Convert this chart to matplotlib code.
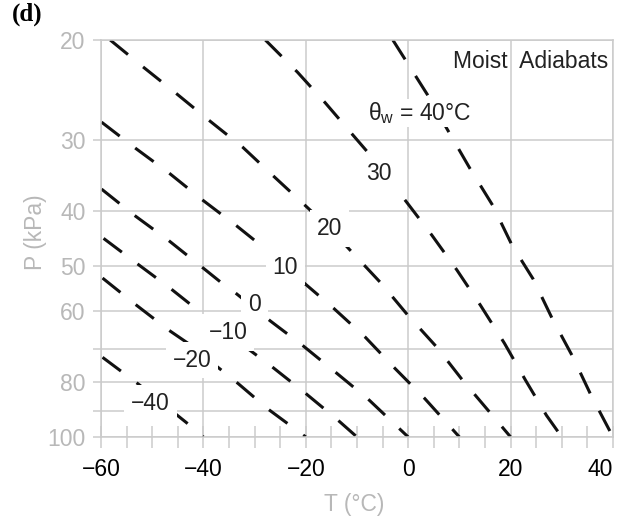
import numpy as np
import matplotlib
matplotlib.use('Agg')
import matplotlib.pyplot as plt
from matplotlib.ticker import FixedLocator, FixedFormatter, MultipleLocator

#---------------------------------------------------------
# data: T (degC) along each moist adiabat
#---------------------------------------------------------

theta_w = [40, 30, 20, 10, 0, -10, -20, -40]

P_40 = [20, 25.0, 28.8, 33.6, 39.1, 46.0, 52.7, 61.8, 72.4, 84.4, 100]
T_40 = [-3.0, 3.8, 7.7, 12.0, 16.5, 20.3, 24.4, 28.1, 32.2, 35.7, 40.0]

P_30 = [20, 22.8, 25.8, 29.4, 31.6, 38.6, 44.1, 50.8, 58.6, 68.4, 79.4, 91.6, 100]
T_30 = [-27.9, -21.6, -16.2, -10.8, -7.8, -0.3, 4.6, 9.5, 14.1, 18.8, 22.9, 27.0, 30.0]

P_20 = [20, 22.3, 24.8, 27.7, 30.9, 34.6, 40.2, 45.9, 53.6, 61.0, 69.5, 79.4, 90.4, 100]
T_20 = [-58.2, -51.8, -45.4, -38.9, -32.3, -26.5, -18.7, -12.3, -5.3, -0.1, 5.6, 10.6, 15.9, 20.0]

P_10 = [27.9, 31.0, 34.3, 38.3, 42.5, 45.2, 53.4, 59.3, 66.7, 75.7, 85.5, 100]
T_10 = [-59.9, -53.3, -46.7, -40.1, -33.5, -29.8, -20.5, -14.6, -8.4, -2.6, 3.2, 10.0]

P_0 = [36.6, 40.7, 45.0, 50.2, 53.4, 55.8, 62.5, 68.9, 76.9, 85.8, 100]
T_0 = [-59.9, -53.5, -46.9, -40.3, -36.6, -33.7, -26.9, -20.7, -14.2, -7.8, 0.0]

P_m10 = [44.7, 49.4, 54.7, 61.0, 69.5, 75.1, 83.7, 93.1, 100]
T_m10 = [-59.5, -53.1, -46.5, -39.9, -31.7, -26.7, -20.1, -13.9, -10.0]

P_m20 = [52.5, 58.4, 64.9, 68.4, 80.4, 89.4, 100]
T_m20 = [-59.7, -53.3, -46.7, -43.0, -33.3, -27.3, -20.0]

P_m40 = [72.4, 80.7, 94.2, 100]
T_m40 = [-59.7, -52.7, -43.4, -40.0]

P_lines = [P_40, P_30, P_20, P_10, P_0, P_m10, P_m20, P_m40]
T_lines = [T_40, T_30, T_20, T_10, T_0, T_m10, T_m20, T_m40]

# line labels and where they sit (T, P)
line_labels = [r'θ$_{\mathrm{w}}$ = 40°C', '30', '20', '10', '0', '\u221210', '\u221220', '\u221240']
label_T = [2.3, -5.7, -15.4, -24.0, -30.0, -35.2, -42.2, -50.3]
label_P = [26.9, 34.3, 43.0, 50.2, 58.4, 65.4, 73.2, 87.2]

x_major = [-60, -40, -20, 0, 20, 40]
x_ticklabels = ['\u221260', '\u221240', '\u221220', '0', '20', '40']
y_ticks = [20, 30, 40, 50, 60, 70, 80, 90, 100]
y_ticklabels = ['20', '30', '40', '50', '60', '', '80', '', '100']

#---------------------------------------------------------
# styling
#---------------------------------------------------------

plt.rcParams['font.family'] = ['Liberation Sans', 'DejaVu Sans']
plt.rcParams['mathtext.fontset'] = 'custom'
plt.rcParams['mathtext.rm'] = 'Liberation Sans'
plt.rcParams['mathtext.it'] = 'Liberation Sans:italic'

GRID = '#cbcbcb'
GRAYTXT = '#b8b8b8'
FS = 16.5

fig = plt.figure(figsize=(6.21, 5.23), dpi=100)
ax = fig.add_axes([101/621, 1-437/523, 512/621, 397/523])

for P, T in zip(P_lines, T_lines):
    ax.plot(T, P, color='#111111', lw=2.2, linestyle=(0, (7.5, 6.4)),
            dash_capstyle='butt', zorder=2)

for i, txt in enumerate(line_labels):
    if i == 0:
        box = dict(boxstyle='square,pad=0.05', fc='white', ec='none')
    else:
        box = dict(boxstyle='square,pad=0.3', fc='white', ec='none')
    ax.text(label_T[i], label_P[i], txt, fontsize=FS, color='#222222',
            ha='center', va='center', bbox=box, zorder=3)

ax.text(0.99, 0.945, 'Moist  Adiabats', transform=ax.transAxes, fontsize=FS,
        color='#222222', ha='right', va='center', zorder=3)

ax.set_yscale('log')
ax.set_xlim(-60, 40)
ax.set_ylim(100, 20)

ax.yaxis.set_major_locator(FixedLocator(y_ticks))
ax.yaxis.set_major_formatter(FixedFormatter(y_ticklabels))
ax.yaxis.set_minor_locator(FixedLocator([]))
ax.xaxis.set_major_locator(FixedLocator(x_major))
ax.xaxis.set_minor_locator(MultipleLocator(5))
ax.set_xticklabels(x_ticklabels)
# last label sits left of its tick, inside the figure
ax.get_xticklabels()[-1].set_horizontalalignment('right')

ax.grid(True, which='major', color=GRID, lw=1.1, zorder=0)
ax.set_axisbelow(True)
for s in ax.spines.values():
    s.set_color(GRID)
    s.set_linewidth(1.1)

ax.tick_params(axis='y', which='major', direction='out', length=6, width=1.1,
               color=GRID, labelcolor=GRAYTXT, labelsize=FS, pad=5)
ax.tick_params(axis='x', which='both', direction='inout', length=16.5, width=1.1,
               color=GRID, labelcolor='black', labelsize=FS, pad=7)

ax.set_ylabel('P (kPa)', fontsize=FS, color=GRAYTXT)
ax.yaxis.set_label_coords(-0.105, 0.515)
ax.set_xlabel('T (°C)', fontsize=FS, color=GRAYTXT)
ax.xaxis.set_label_coords(0.495, -0.14)

fig.text(12/621, 1-3/523, '(d)', fontsize=18, fontweight='bold',
         family='Liberation Serif', ha='left', va='top')

plt.savefig('out.png', dpi=100)
